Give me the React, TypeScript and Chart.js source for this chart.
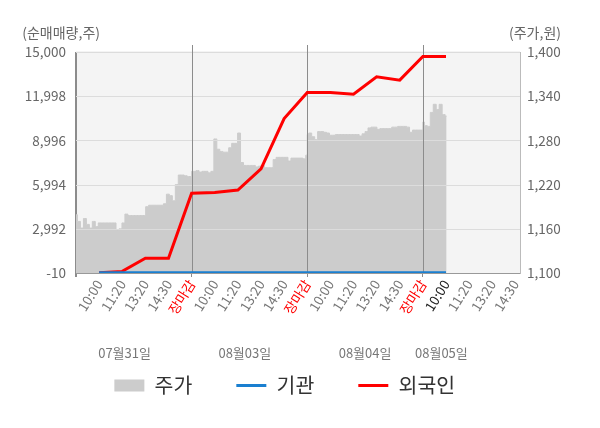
import React, { useEffect, useRef } from 'react';
import { Chart, registerables } from 'chart.js';

Chart.register(...registerables);
Chart.defaults.font.family = '"Noto Sans CJK KR", "Noto Sans", sans-serif';

// x axis: one day = 5 slots (10:00, 11:20, 13:20, 14:30, 장마감)
const xTickLabels = [
  '',
  '10:00', '11:20', '13:20', '14:30', '장마감',
  '10:00', '11:20', '13:20', '14:30', '장마감',
  '10:00', '11:20', '13:20', '14:30', '장마감',
  '10:00', '11:20', '13:20', '14:30',
];
const highlightTick = 16;
const dateLabels = ['07월31일', '08월03일', '08월04일', '08월05일'];
const dateSlots = [2.1, 7.3, 12.5, 15.8];

// 순매매량 (주) at each session tick
const flowSlots = [1, 2, 3, 4, 5, 6, 7, 8, 9, 10, 11, 12, 13, 14, 15, 16];
const foreignNet = [0, 100, 990, 990, 5410, 5460, 5620, 7070, 10480, 12250, 12250, 12130, 13310, 13090, 14700, 14700];
const institutionNet = [0, 0, 0, 0, 0, 0, 0, 0, 0, 0, 0, 0, 0, 0, 0, 0];

// 주가 (원), 10-minute steps per trading day
const priceDay1 = [1179, 1170, 1161, 1174, 1166, 1161, 1170, 1163, 1168, 1168, 1168, 1168, 1168, 1168, 1159, 1160, 1168, 1180, 1178, 1178, 1178, 1178, 1178, 1178, 1190, 1192, 1192, 1192, 1192, 1192, 1194, 1207, 1205, 1198, 1220, 1233, 1233, 1232, 1231, 1231];
const priceDay2 = [1238, 1238, 1239, 1237, 1238, 1238, 1236, 1238, 1282, 1268, 1265, 1264, 1264, 1270, 1276, 1276, 1290, 1250, 1246, 1246, 1246, 1246, 1244, 1245, 1246, 1243, 1243, 1243, 1254, 1257, 1257, 1257, 1257, 1252, 1256, 1256, 1256, 1256, 1255, 1260];
const priceDay3 = [1288, 1290, 1285, 1281, 1292, 1292, 1291, 1290, 1287, 1287, 1288, 1288, 1288, 1288, 1288, 1288, 1288, 1288, 1286, 1289, 1292, 1297, 1298, 1298, 1295, 1296, 1296, 1296, 1296, 1298, 1298, 1299, 1299, 1299, 1298, 1291, 1294, 1294, 1294, 1294];
const priceDay4 = [1305, 1300, 1299, 1318, 1329, 1322, 1329, 1315, 1313];

const volumeMin = -10;
const volumeMax = 15000;
const volumeStep = 3002;
const priceMin = 1100;
const priceMax = 1400;
const priceStep = 60;
const axisMax = 19.2;

const fmt = (v: number | string) => Number(v).toLocaleString('en-US');

const plotBackground = {
  id: 'plotBackground',
  beforeDraw(chart: any) {
    const { ctx, chartArea: a } = chart;
    ctx.save();
    ctx.fillStyle = '#f4f4f4';
    ctx.fillRect(a.left, a.top - 1, a.right - a.left, a.bottom - a.top + 1);
    ctx.restore();
  },
};

// grid drawn over the price area
const overlayGrid = {
  id: 'overlayGrid',
  afterDatasetDraw(chart: any, args: any) {
    if (args.index !== 0) return;
    const { ctx, chartArea: a, scales } = chart;
    ctx.save();
    ctx.lineWidth = 1;
    ctx.strokeStyle = '#dcdcdc';
    scales.y.ticks.forEach((t: any) => {
      if (t.value === volumeMin) return;
      const y = Math.round(scales.y.getPixelForValue(t.value)) + 0.5;
      ctx.beginPath();
      ctx.moveTo(a.left, y);
      ctx.lineTo(a.right, y);
      ctx.stroke();
    });
    ctx.strokeStyle = '#8c8c8c';
    [5, 10, 15].forEach((s) => {
      const x = Math.round(scales.x.getPixelForValue(s)) + 0.5;
      ctx.beginPath();
      ctx.moveTo(x, a.top - 7);
      ctx.lineTo(x, a.bottom);
      ctx.stroke();
    });
    const lx = Math.round(a.left) - 0.5;
    ctx.beginPath();
    ctx.moveTo(lx, a.top);
    ctx.lineTo(lx, a.bottom + 4);
    ctx.stroke();
    ctx.strokeStyle = '#999999';
    const by = Math.round(a.bottom) + 0.5;
    ctx.beginPath();
    ctx.moveTo(a.left, by);
    ctx.lineTo(a.right, by);
    ctx.stroke();
    ctx.restore();
  },
};

const axisTitles = {
  id: 'axisTitles',
  afterDraw(chart: any) {
    const { ctx, chartArea: a, scales } = chart;
    ctx.save();
    ctx.font = '14px "Noto Sans CJK KR", "Noto Sans", sans-serif';
    ctx.fillStyle = '#666666';
    ctx.textBaseline = 'middle';
    ctx.textAlign = 'right';
    ctx.fillText('(순매매량,주)', a.left + 24, a.top - 19);
    ctx.textAlign = 'left';
    ctx.fillText('(주가,원)', a.right - 11, a.top - 19);
    // day captions under the time ticks
    ctx.font = '13px "Noto Sans CJK KR", "Noto Sans", sans-serif';
    ctx.fillStyle = '#777777';
    ctx.textAlign = 'center';
    dateSlots.forEach((s, i) => {
      ctx.fillText(dateLabels[i], scales.x.getPixelForValue(s), a.bottom + 80);
    });
    ctx.restore();
  },
};

const App: React.FC = () => {
  const canvasRef = useRef<HTMLCanvasElement>(null);
  const chartRef = useRef<Chart | null>(null);

  useEffect(() => {
    document.body.style.margin = '0';
    if (!canvasRef.current) return;
    if (chartRef.current) chartRef.current.destroy();

    const pricePoints: { x: number; y: number }[] = [];
    [priceDay1, priceDay2, priceDay3, priceDay4].forEach((day, d) => {
      day.forEach((v, i) => pricePoints.push({ x: d * 5 + (i * 5) / 39, y: v }));
    });

    chartRef.current = new Chart(canvasRef.current, {
      type: 'line',
      data: {
        datasets: [
          {
            label: '주가',
            data: pricePoints,
            yAxisID: 'y1',
            borderColor: '#cccccc',
            borderWidth: 1,
            backgroundColor: '#cccccc',
            fill: 'start',
            stepped: 'middle',
            pointRadius: 0,
            pointStyle: 'rect',
            pointBackgroundColor: '#cccccc',
            pointBorderColor: '#cccccc',
            pointBorderWidth: 0,
            order: 2,
          },
          {
            label: '기관',
            data: flowSlots.map((x, i) => ({ x, y: institutionNet[i] })),
            yAxisID: 'y',
            borderColor: '#1a7fd0',
            borderWidth: 3,
            fill: false,
            pointRadius: 0,
            pointStyle: 'line',
            pointBorderColor: '#1a7fd0',
            pointBorderWidth: 3,
            order: 0,
          },
          {
            label: '외국인',
            data: flowSlots.map((x, i) => ({ x, y: foreignNet[i] })),
            yAxisID: 'y',
            borderColor: '#ff0000',
            borderWidth: 3,
            fill: false,
            pointRadius: 0,
            pointStyle: 'line',
            pointBorderColor: '#ff0000',
            pointBorderWidth: 3,
            order: 1,
          },
        ],
      },
      options: {
        animation: false,
        responsive: true,
        maintainAspectRatio: false,
        events: [],
        layout: { padding: { top: 52, right: 30.5, bottom: 22.25, left: 0 } },
        scales: {
          x: {
            type: 'linear',
            position: 'bottom',
            min: 0,
            max: axisMax,
            afterBuildTicks: (s: any) => {
              s.ticks = xTickLabels.map((_, i) => ({ value: i }));
            },
            afterFit: (s: any) => {
              s.height = 58.25;
            },
            ticks: {
              autoSkip: false,
              minRotation: 58,
              maxRotation: 58,
              padding: 0,
              font: { size: 13.5 },
              color: (c: any) =>
                xTickLabels[c.index] === '장마감' ? '#ff0000' : c.index === highlightTick ? '#222222' : '#777777',
              callback: (_v: any, i: number) => xTickLabels[i],
            },
            grid: {
              drawOnChartArea: false,
              tickLength: 4,
              tickColor: (c: any) => (c.index % 5 === 0 ? '#8c8c8c' : 'rgba(0,0,0,0)'),
            },
            border: { color: '#999999' },
          },
          y: {
            position: 'left',
            min: volumeMin,
            max: volumeMax,
            afterFit: (s: any) => {
              s.width = 76;
            },
            ticks: {
              stepSize: volumeStep,
              padding: 10,
              font: { size: 13.5 },
              color: '#666666',
              callback: (v: any) => fmt(v),
            },
            grid: { drawOnChartArea: false, drawTicks: false },
            border: { color: '#8c8c8c' },
          },
          y1: {
            position: 'right',
            min: priceMin,
            max: priceMax,
            afterFit: (s: any) => {
              s.width = 49.5;
            },
            ticks: {
              stepSize: priceStep,
              padding: 7,
              font: { size: 13.5 },
              color: '#666666',
              callback: (v: any) => fmt(v),
            },
            grid: { drawOnChartArea: false, drawTicks: false },
            border: { color: '#bbbbbb' },
          },
        },
        plugins: {
          tooltip: { enabled: false },
          legend: {
            position: 'bottom',
            labels: {
              usePointStyle: true,
              pointStyleWidth: 30,
              boxHeight: 12,
              padding: 44,
              color: '#333333',
              font: { size: 20.5 },
              sort: (a: any, b: any) => a.datasetIndex - b.datasetIndex,
            },
          },
        },
      } as any,
      plugins: [plotBackground, overlayGrid, axisTitles],
    });

    return () => {
      if (chartRef.current) {
        chartRef.current.destroy();
        chartRef.current = null;
      }
    };
  }, []);

  return (
    <div style={{ width: '600px', height: '428px', position: 'relative' }}>
      <canvas ref={canvasRef}></canvas>
    </div>
  );
};

export default App;
